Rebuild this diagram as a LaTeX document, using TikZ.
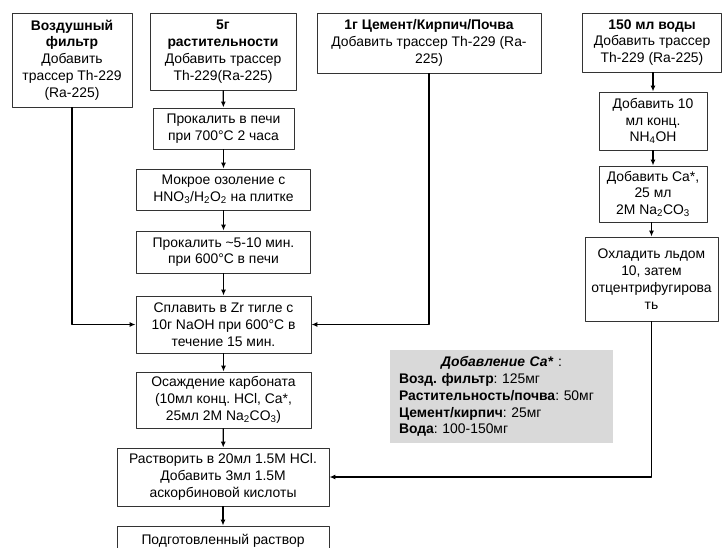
\documentclass[tikz,border=0pt]{standalone}
\usepackage{fontspec}
\setmainfont{Liberation Sans}
\usetikzlibrary{arrows.meta}
\frenchspacing
\begin{document}
\begin{tikzpicture}[x=1pt, y=-1pt, line join=round, >={Latex[length=6pt,width=5pt]},
	font=\fontsize{13.9}{16.8}\selectfont,
	box/.style={draw=black!80, line width=0.9pt, align=center, inner sep=0pt, fill=white},
	flow/.style={->, line width=1.2pt}]
	\useasboundingbox (0,0) rectangle (722,547);
	\clip (0,0) rectangle (722,547);
	% Пробы
	\node[box, minimum width=120pt, minimum height=94pt] (filter) at (72,60) {\textbf{Воздушный}\\\textbf{фильтр}\\Добавить\\трассер Th-229\\(Ra-225)};
	\node[box, minimum width=146pt, minimum height=77pt] (veg) at (223,51.5) {\textbf{5г}\\\textbf{растительности}\\Добавить трассер\\Th-229(Ra-225)};
	\node[box, minimum width=224pt, minimum height=60pt] (cement) at (429,43) {\textbf{1г Цемент/Кирпич/Почва}\\Добавить трассер Th-229 (Ra-\\225)};
	\node[box, minimum width=139pt, minimum height=59pt] (water) at (652,42.5) {\textbf{150 мл воды}\\Добавить трассер\\Th-229 (Ra-225)};
	% Вода
	\node[box, minimum width=108pt, minimum height=58pt] (nh4oh) at (653,121) {Добавить 10\\мл конц.\\NH\textsubscript{4}OH};
	\node[box, minimum width=108pt, minimum height=56pt] (addca) at (653,194) {Добавить Ca*,\\25 мл\\2M Na\textsubscript{2}CO\textsubscript{3}};
	\node[box, minimum width=133pt, minimum height=84pt] (cool) at (651.5,279) {Охладить льдом\\10, затем\\отцентрифугирова\\ть};
	% Растительность
	\node[box, minimum width=141pt, minimum height=41pt] (ash1) at (223.5,128.5) {Прокалить в печи\\при 700°C 2 часа};
	\node[box, minimum width=174pt, minimum height=41pt] (wet) at (223.5,189.5) {Мокрое озоление с\\HNO\textsubscript{3}/H\textsubscript{2}O\textsubscript{2} на плитке};
	\node[box, minimum width=174pt, minimum height=42pt] (ash2) at (223.5,252) {Прокалить \textasciitilde5-10 мин.\\при 600°C в печи};
	% Общая часть
	\node[box, minimum width=175pt, minimum height=57pt] (fuse) at (223.5,324.5) {Сплавить в Zr тигле с\\10г NaOH при 600°C в\\течение 15 мин.};
	\node[box, minimum width=175pt, minimum height=56pt] (precip) at (223.5,400) {Осаждение карбоната\\(10мл конц. HCl, Ca*,\\25мл 2M Na\textsubscript{2}CO\textsubscript{3})};
	\node[box, minimum width=212pt, minimum height=58pt] (dissolve) at (223,477) {Растворить в 20мл 1.5M HCl.\\Добавить 3мл 1.5M\\аскорбиновой кислоты};
	\node[box, minimum width=212pt, minimum height=30pt] (ready) at (223,541) {Подготовленный раствор};
	% Добавление Ca*
	\node[fill=black!15, inner sep=0pt, minimum width=223pt, minimum height=93pt, text width=205pt, align=left] (calegend) at (501.5,396.5)
		{\makebox[205pt]{\textbf{\textit{Добавление Ca*}} :}\\
		\textbf{Возд. фильтр}: 125мг\\
		\textbf{Растительность/почва}: 50мг\\
		\textbf{Цемент/кирпич}: 25мг\\
		\textbf{Вода}: 100-150мг};
	% Стрелки
	\draw[flow] (veg) -- (ash1);
	\draw[flow] (ash1) -- (wet);
	\draw[flow] (wet) -- (ash2);
	\draw[flow] (ash2) -- (fuse);
	\draw[flow] (fuse) -- (precip);
	\draw[flow] (precip) -- (dissolve);
	\draw[flow] (dissolve) -- (ready);
	\draw[flow] (filter) |- (fuse);
	\draw[flow] (cement) |- (fuse);
	\draw[flow] (water.south -| nh4oh) -- (nh4oh);
	\draw[flow] (nh4oh) -- (addca);
	\draw[flow] (addca.south -| cool) -- (cool);
	\draw[flow] (cool) |- (dissolve);
\end{tikzpicture}
\end{document}
